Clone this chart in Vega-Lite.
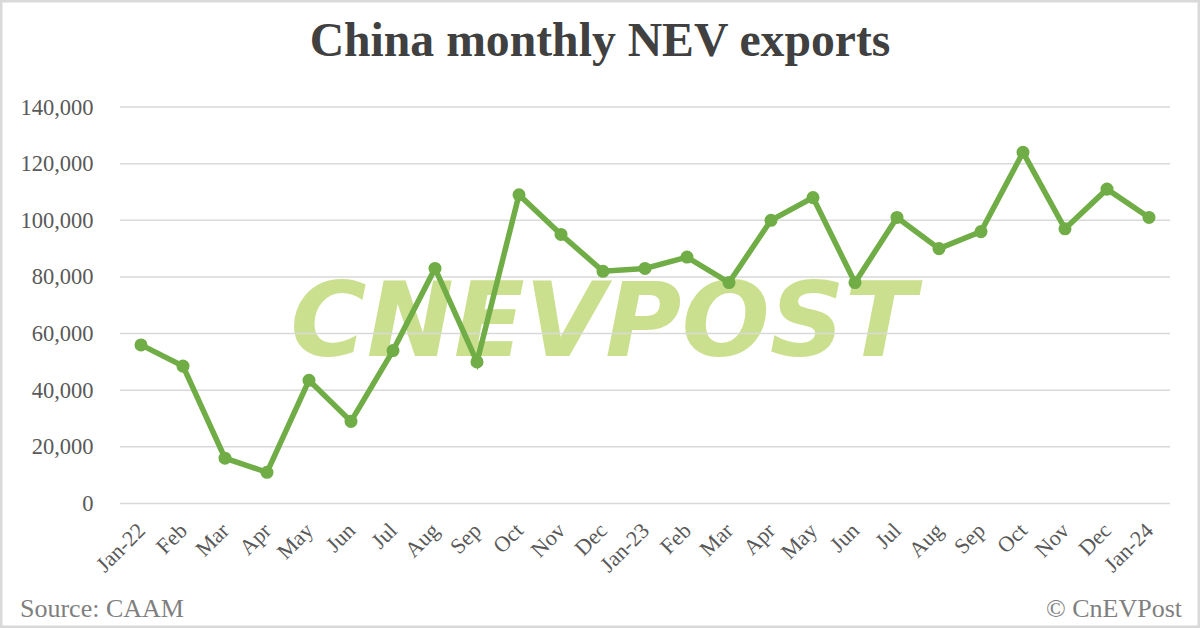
{
  "$schema": "https://vega.github.io/schema/vega-lite/v6.json",
  "description": "Monthly exports of new energy vehicles from China, Jan 2022 to Jan 2024.",
  "width": 1200,
  "height": 628,
  "autosize": "none",
  "padding": 0,
  "background": "white",
  "title": {
    "text": "China monthly NEV exports",
    "font": "Liberation Serif",
    "fontSize": 47.7,
    "fontWeight": "bold",
    "color": "#404040",
    "anchor": "middle",
    "baseline": "alphabetic",
    "offset": -104
  },
  "view": {"stroke": "#d9d9d9", "strokeWidth": 5},
  "datasets": {
    "exports": [
      {"month": "Jan-22", "value": 56000},
      {"month": "Feb-22", "value": 48500},
      {"month": "Mar-22", "value": 16000},
      {"month": "Apr-22", "value": 11000},
      {"month": "May-22", "value": 43500},
      {"month": "Jun-22", "value": 29000},
      {"month": "Jul-22", "value": 54000},
      {"month": "Aug-22", "value": 83000},
      {"month": "Sep-22", "value": 50000},
      {"month": "Oct-22", "value": 109000},
      {"month": "Nov-22", "value": 95000},
      {"month": "Dec-22", "value": 82000},
      {"month": "Jan-23", "value": 83000},
      {"month": "Feb-23", "value": 87000},
      {"month": "Mar-23", "value": 78000},
      {"month": "Apr-23", "value": 100000},
      {"month": "May-23", "value": 108000},
      {"month": "Jun-23", "value": 78000},
      {"month": "Jul-23", "value": 101000},
      {"month": "Aug-23", "value": 90000},
      {"month": "Sep-23", "value": 96000},
      {"month": "Oct-23", "value": 124000},
      {"month": "Nov-23", "value": 97000},
      {"month": "Dec-23", "value": 111000},
      {"month": "Jan-24", "value": 101000}
    ],
    "gridlines": [
      {"month": "Jan-22", "end": "Jan-24", "value": 0},
      {"month": "Jan-22", "end": "Jan-24", "value": 20000},
      {"month": "Jan-22", "end": "Jan-24", "value": 40000},
      {"month": "Jan-22", "end": "Jan-24", "value": 60000},
      {"month": "Jan-22", "end": "Jan-24", "value": 80000},
      {"month": "Jan-22", "end": "Jan-24", "value": 100000},
      {"month": "Jan-22", "end": "Jan-24", "value": 120000},
      {"month": "Jan-22", "end": "Jan-24", "value": 140000}
    ]
  },
  "data": {"name": "exports"},
  "encoding": {
    "x": {
      "field": "month",
      "type": "ordinal",
      "scale": {
        "type": "point",
        "padding": 0,
        "range": [141, 1149],
        "domain": ["Jan-22", "Feb-22", "Mar-22", "Apr-22", "May-22", "Jun-22", "Jul-22", "Aug-22", "Sep-22", "Oct-22", "Nov-22", "Dec-22", "Jan-23", "Feb-23", "Mar-23", "Apr-23", "May-23", "Jun-23", "Jul-23", "Aug-23", "Sep-23", "Oct-23", "Nov-23", "Dec-23", "Jan-24"]
      },
      "axis": {
        "title": null,
        "orient": "bottom",
        "offset": -124.5,
        "domain": false,
        "ticks": false,
        "grid": false,
        "labelAngle": -45,
        "labelAlign": "right",
        "labelBaseline": "middle",
        "labelPadding": 23,
        "labelFont": "Liberation Serif",
        "labelFontSize": 22,
        "labelColor": "#595959",
        "labelOverlap": false,
        "labelExpr": "indexof(datum.value, 'Jan') == 0 ? datum.value : slice(datum.value, 0, 3)"
      }
    },
    "y": {
      "field": "value",
      "type": "quantitative",
      "scale": {"domain": [0, 140000], "range": [503.5, 107], "nice": false, "zero": false},
      "axis": {
        "title": null,
        "orient": "left",
        "offset": -93,
        "domain": false,
        "ticks": false,
        "grid": false,
        "values": [0, 20000, 40000, 60000, 80000, 100000, 120000, 140000],
        "labelExpr": "format(datum.value, ',')",
        "labelPadding": 0,
        "labelFont": "Liberation Serif",
        "labelFontSize": 22.5,
        "labelColor": "#595959"
      }
    }
  },
  "layer": [
    {
      "data": {"values": [{"month": "Dec-22", "value": 63000, "label": "CNEVPOST"}]},
      "mark": {
        "type": "text",
        "font": "DejaVu Sans",
        "fontWeight": "bold",
        "fontStyle": "italic",
        "fontSize": 104,
        "align": "center",
        "baseline": "middle",
        "color": "#cbe08f"
      },
      "encoding": {"text": {"field": "label"}}
    },
    {
      "data": {"name": "gridlines"},
      "mark": {"type": "rule", "color": "#d9d9d9", "strokeWidth": 1.5, "xOffset": -21, "x2Offset": 21},
      "encoding": {"x2": {"field": "end"}}
    },
    {"mark": {"type": "line", "color": "#70ad47", "strokeWidth": 5.5}},
    {"mark": {"type": "point", "filled": true, "opacity": 1, "size": 170, "color": "#70ad47"}},
    {
      "data": {"values": [{"month": "Jan-22", "value": -37250, "label": "Source: CAAM"}]},
      "mark": {
        "type": "text",
        "font": "Liberation Serif",
        "fontSize": 26,
        "align": "left",
        "baseline": "middle",
        "dx": -121,
        "color": "#7f7f7f"
      },
      "encoding": {"text": {"field": "label"}}
    },
    {
      "data": {"values": [{"month": "Jan-24", "value": -37250, "label": "© CnEVPost"}]},
      "mark": {
        "type": "text",
        "font": "Liberation Serif",
        "fontSize": 26,
        "align": "right",
        "baseline": "middle",
        "dx": 33,
        "color": "#7f7f7f"
      },
      "encoding": {"text": {"field": "label"}}
    }
  ]
}
